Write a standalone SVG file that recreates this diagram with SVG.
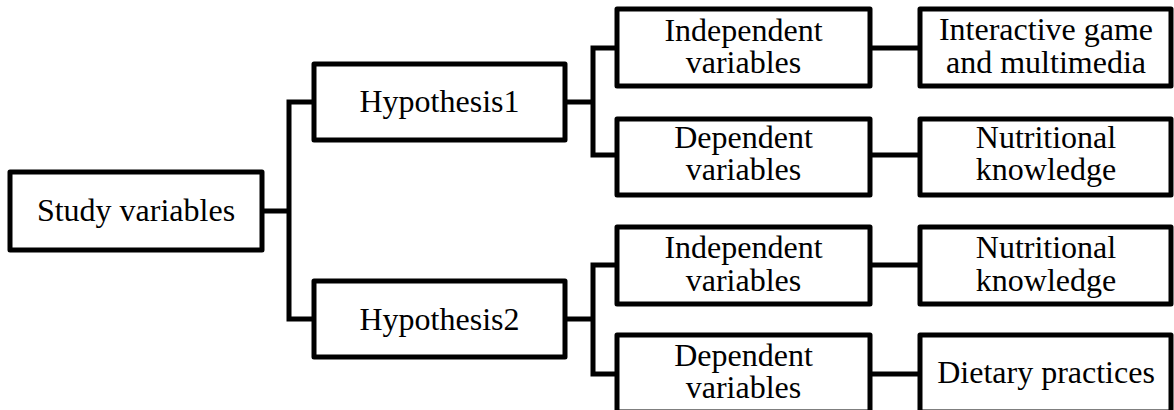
<svg xmlns="http://www.w3.org/2000/svg" width="1174" height="410" viewBox="0 0 1174 410">
<style>
.box{fill:#fff;stroke:#000;stroke-width:5;stroke-linejoin:round}
.t{font-family:'Liberation Serif','Times New Roman',Times,Tinos,'Nimbus Roman','DejaVu Serif',serif;font-size:32px;fill:#000;text-anchor:middle}
.c{fill:none;stroke:#000;stroke-width:5;stroke-linejoin:round;stroke-linecap:square}
</style>
<rect width="1174" height="410" fill="#fff"/>
<g id="connectors">
<path class="c" d="M262 211H289M289 102V319M289 102H314M289 319H314"/>
<path class="c" d="M565 102H593M593 48V155M593 48H617M593 155H617"/>
<path class="c" d="M565 319H593M593 265V374M593 265H617M593 374H617"/>
<path class="c" d="M870 48H920M870 155H920M870 265H920M870 374H920"/>
</g>
<g id="study"><rect class="box" x="10" y="172" width="252" height="78"/><text class="t" x="136" y="221" font-family="Liberation Serif, serif">Study variables</text></g>
<g id="hyp1"><rect class="box" x="314" y="64" width="251" height="76"/><text class="t" x="439.5" y="112">Hypothesis1</text></g>
<g id="hyp2"><rect class="box" x="314" y="281" width="251" height="76"/><text class="t" x="439.5" y="330">Hypothesis2</text></g>
<g id="ind1"><rect class="box" x="617" y="9" width="253" height="77"/><text class="t" x="743.5" y="41">Independent</text><text class="t" x="743.5" y="73">variables</text></g>
<g id="dep1"><rect class="box" x="617" y="119" width="253" height="76"/><text class="t" x="743.5" y="148">Dependent</text><text class="t" x="743.5" y="180">variables</text></g>
<g id="int1"><rect class="box" x="920" y="9" width="251" height="77"/><text class="t" x="1046" y="40">Interactive game</text><text class="t" x="1046" y="73">and multimedia</text></g>
<g id="nut1"><rect class="box" x="920" y="119" width="251" height="76"/><text class="t" x="1046" y="148">Nutritional</text><text class="t" x="1046" y="180">knowledge</text></g>
<g id="ind2"><rect class="box" x="617" y="227" width="253" height="77"/><text class="t" x="743.5" y="258">Independent</text><text class="t" x="743.5" y="291">variables</text></g>
<g id="nut2"><rect class="box" x="920" y="227" width="251" height="77"/><text class="t" x="1046" y="258">Nutritional</text><text class="t" x="1046" y="291">knowledge</text></g>
<g id="dep2"><rect class="box" x="617" y="335" width="253" height="77"/><text class="t" x="743.5" y="366">Dependent</text><text class="t" x="743.5" y="398">variables</text></g>
<g id="diet"><rect class="box" x="920" y="335" width="251" height="77"/><text class="t" x="1046" y="383">Dietary practices</text></g>
</svg>
